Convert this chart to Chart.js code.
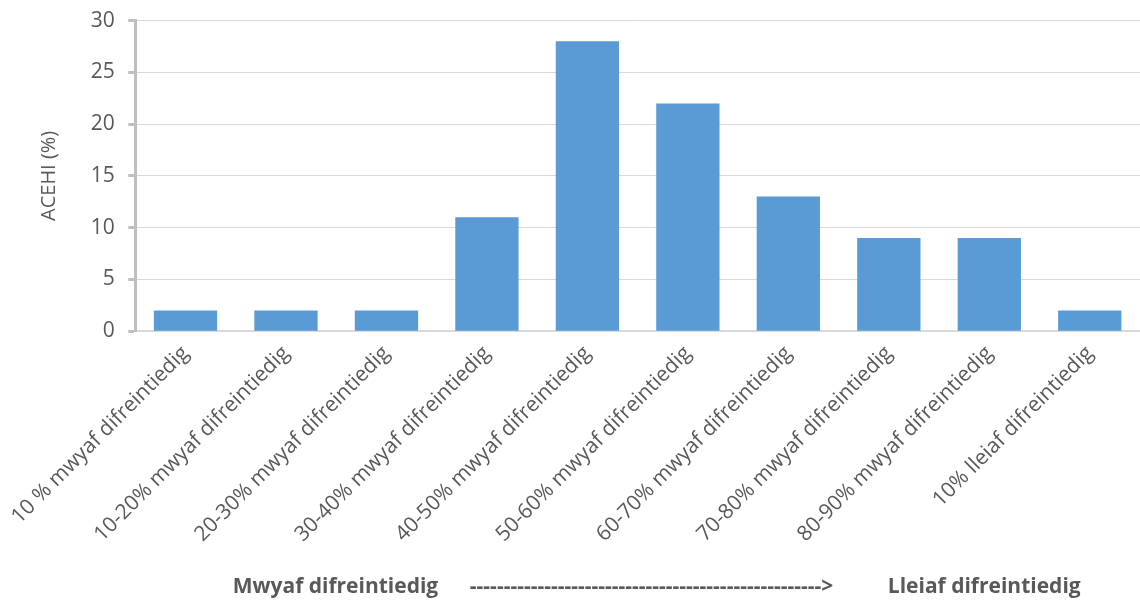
<!DOCTYPE html>
<html>
<head>
<meta charset="utf-8">
<script src="https://cdn.jsdelivr.net/npm/chart.js@4/dist/chart.umd.min.js"></script>
<style>
  html, body { margin: 0; padding: 0; background: #fff; }
  #wrap { width: 1140px; height: 603px; }
</style>
</head>
<body>
<div id="wrap"><canvas id="myChart"></canvas></div>
<script>
let categories = [
  "10 % mwyaf difreintiedig",
  "10-20% mwyaf difreintiedig",
  "20-30% mwyaf difreintiedig",
  "30-40% mwyaf difreintiedig",
  "40-50% mwyaf difreintiedig",
  "50-60% mwyaf difreintiedig",
  "60-70% mwyaf difreintiedig",
  "70-80% mwyaf difreintiedig",
  "80-90% mwyaf difreintiedig",
  "10% lleiaf difreintiedig"
];
let values = [2, 2, 2, 11, 28, 22, 13, 9, 9, 2];
let yTitle = "ACEHI (%)";
let leftNote = "Mwyaf difreintiedig";
let arrowNote = "---------------------------------------------------->";
let rightNote = "Lleiaf difreintiedig";

// bottom direction caption, placed against the chart area
let caption = {
  id: 'caption',
  afterDraw(chart) {
    let ctx = chart.ctx;
    let a = chart.chartArea;
    let w = a.right - a.left;
    ctx.save();
    ctx.fillStyle = '#595959';
    ctx.font = 'bold 21px "Open Sans"';
    ctx.textBaseline = 'middle';
    let y = chart.height - 16;
    ctx.textAlign = 'left';
    ctx.fillText(leftNote, a.left + 0.097 * w, y);
    ctx.fillText(arrowNote, a.left + 0.333 * w, y);
    ctx.fillText(rightNote, a.left + 0.749 * w, y);
    ctx.restore();
  }
};

function render() {
  var ctx = document.getElementById("myChart").getContext('2d');
  /*global Chart*/
  new Chart(ctx, {
    type: 'bar',
    data: {
      labels: categories,
      datasets: [{
        data: values,
        backgroundColor: '#5B9BD5',
        borderWidth: 0,
        barPercentage: 0.63,
        categoryPercentage: 1
      }]
    },
    options: {
      responsive: true,
      maintainAspectRatio: false,
      animation: false,
      layout: { padding: { top: 2, right: 0, bottom: 46, left: 5 } },
      plugins: { legend: { display: false }, tooltip: { enabled: false } },
      scales: {
        x: {
          grid: { display: false, drawTicks: false },
          border: { color: '#D9D9D9', width: 2 },
          ticks: {
            color: '#595959',
            font: { family: '"Open Sans"', size: 21 },
            maxRotation: 45,
            minRotation: 45,
            padding: 10,
            autoSkip: false
          }
        },
        y: {
          min: 0,
          max: 30,
          ticks: {
            stepSize: 5,
            color: '#595959',
            font: { family: '"Open Sans"', size: 21 },
            padding: 8,
            callback: (v) => v + ' '
          },
          grid: { color: '#D9D9D9', lineWidth: 1, tickLength: 7, tickColor: '#BFBFBF', tickWidth: 3 },
          border: { color: '#BFBFBF', width: 3 },
          title: {
            display: true,
            text: yTitle,
            color: '#595959',
            font: { family: '"Open Sans"', size: 20 },
            padding: { bottom: 22 }
          }
        }
      }
    },
    plugins: [caption]
  });
}

render();
</script>
</body>
</html>
